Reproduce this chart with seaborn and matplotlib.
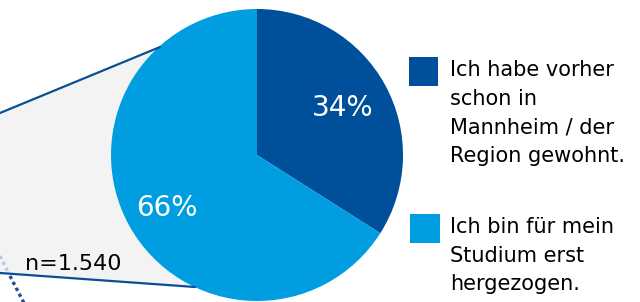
import matplotlib
matplotlib.use("Agg")
import matplotlib.pyplot as plt
import seaborn as sns
from matplotlib.patches import Rectangle, Polygon

# ---- data ----
categories = ["Ich habe vorher schon in Mannheim / der Region gewohnt.",
              "Ich bin für mein Studium erst hergezogen."]
values = [34, 66]
pct_labels = ["34%", "66%"]
legend_lines = [["Ich habe vorher", "schon in", "Mannheim / der", "Region gewohnt."],
                ["Ich bin für mein", "Studium erst", "hergezogen."]]
n_label = "n=1.540"

sns.set_theme(style="white")
plt.rcParams['font.family'] = ['DejaVu Sans']
colors = ["#004f9a", "#009ee0"]
line_col = "#0a4f96"

W, H = 640, 302
fig = plt.figure(figsize=(W / 100, H / 100), dpi=100)
ax = fig.add_axes([0, 0, 1, 1])

def Y(y):  # image y -> axes y
    return H - y

cx, cy, r = 257, Y(155), 146

# zoom connector (grey wedge)
poly = Polygon([(0, Y(113)), (160, Y(47)), (cx, cy), (195, Y(287)), (0, Y(273))],
               closed=True, facecolor="#f3f3f3", edgecolor="none", zorder=1)
ax.add_patch(poly)
ax.plot([0, 160], [Y(113), Y(47)], color=line_col, lw=1.6, zorder=2)
ax.plot([0, 195], [Y(273), Y(287)], color=line_col, lw=1.6, zorder=2)

# dotted curve fragment
ax.plot([0, 8], [Y(256), Y(272)], color="#b7c9de", lw=2.4, ls=(0, (1, 1)), zorder=3)
ax.plot([10, 25], [Y(276), Y(305)], color="#1c4f8f", lw=2.4, ls=(0, (1, 1)), zorder=3)

# pie
ax.pie(values, colors=colors, startangle=90, counterclock=False,
       center=(cx, cy), radius=r, wedgeprops=dict(linewidth=0), frame=True)
ax.set_xlim(0, W)
ax.set_ylim(0, H)
ax.set_aspect("equal")
ax.axis("off")

ax.text(343, Y(107.5), pct_labels[0], color="white", fontsize=20,
        ha="center", va="center", zorder=5)
ax.text(167, Y(208), pct_labels[1], color="white", fontsize=20,
        ha="center", va="center", zorder=5)

ax.text(25, Y(270), n_label, color="black", fontsize=16, ha="left",
        va="baseline", zorder=5)

# legend
ax.add_patch(Rectangle((409, Y(86)), 29, 29, facecolor=colors[0], edgecolor="none"))
ax.add_patch(Rectangle((410, Y(243)), 30, 29, facecolor=colors[1], edgecolor="none"))
for lines, base in zip(legend_lines, [76, 233]):
    for i, ln in enumerate(lines):
        ax.text(450, Y(base + i * 28.7), ln, color="black", fontsize=15,
                ha="left", va="baseline")

fig.savefig("out.png", dpi=100)
